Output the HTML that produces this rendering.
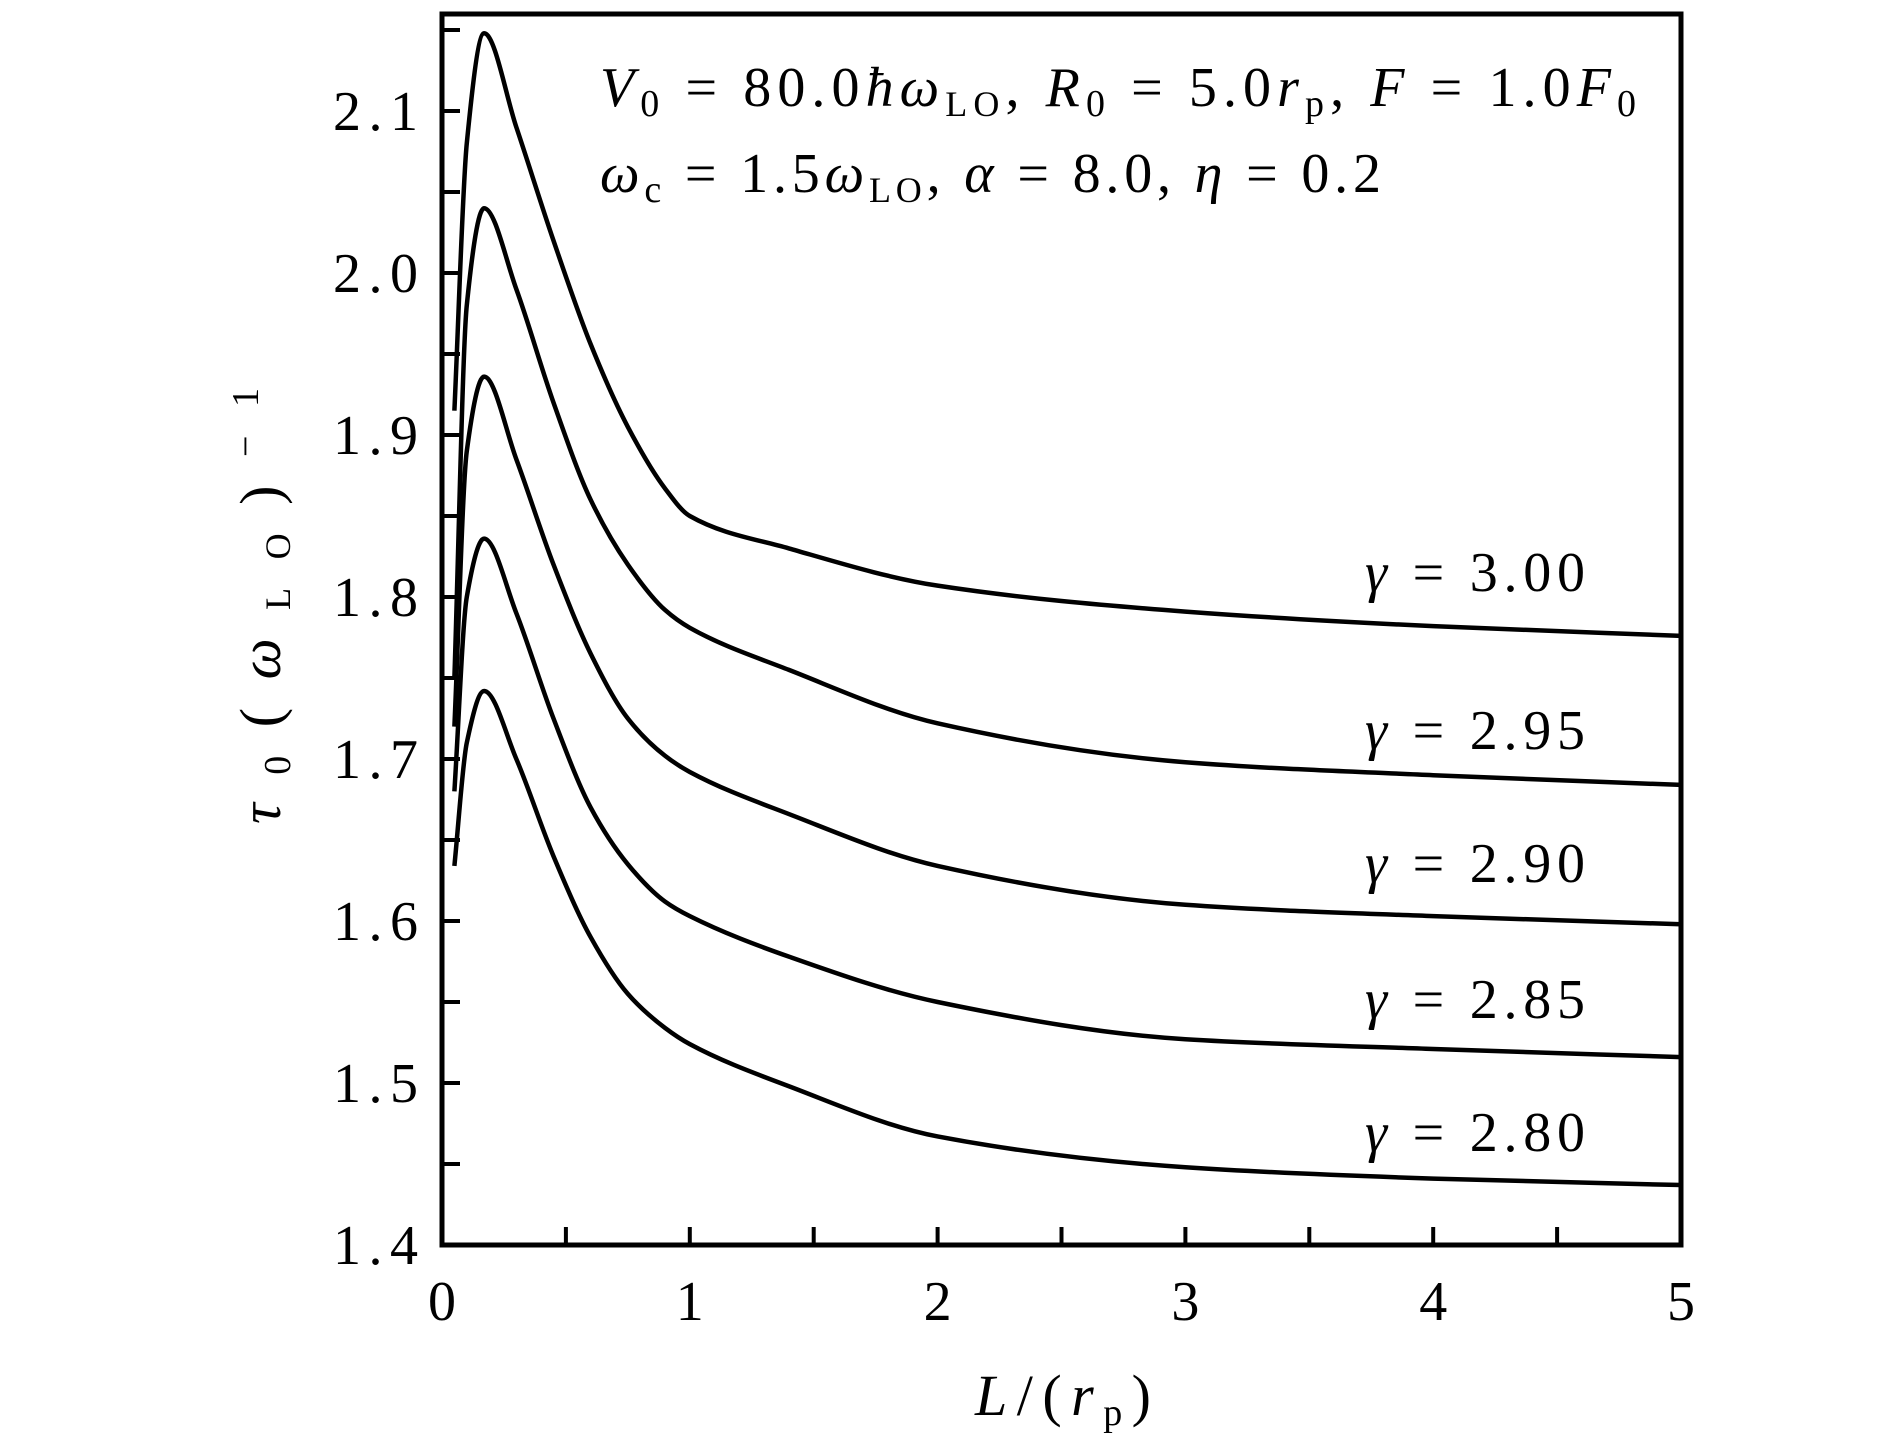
<!DOCTYPE html>
<html><head><meta charset="utf-8"><style>
body{margin:0;background:#fff}
svg{display:block}
text{font-family:"Liberation Serif",serif;fill:#000}
</style></head><body>
<svg id="chart" width="1890" height="1441" viewBox="0 0 1890 1441" xmlns="http://www.w3.org/2000/svg">
<g id="curves"></g>
<g id="axes"></g>
<text x="600" y="106" font-size="56" font-style="italic" textLength="1036" lengthAdjust="spacing">V<tspan font-style="normal" font-size="38" dy="10">0</tspan><tspan font-style="normal" dy="-10"> = 80.0</tspan>ħω<tspan font-style="normal" font-size="36" dy="10">LO</tspan><tspan font-style="normal" dy="-10">, </tspan>R<tspan font-style="normal" font-size="38" dy="10">0</tspan><tspan font-style="normal" dy="-10"> = 5.0</tspan>r<tspan font-style="normal" font-size="38" dy="10">p</tspan><tspan font-style="normal" dy="-10">, </tspan>F<tspan font-style="normal"> = 1.0</tspan>F<tspan font-style="normal" font-size="38" dy="10">0</tspan></text>
<text x="600" y="192" font-size="56" font-style="italic" textLength="781" lengthAdjust="spacing">ω<tspan font-style="normal" font-size="38" dy="10">c</tspan><tspan font-style="normal" dy="-10"> = 1.5</tspan>ω<tspan font-style="normal" font-size="36" dy="10">LO</tspan><tspan font-style="normal" dy="-10">, </tspan>α<tspan font-style="normal"> = 8.0, </tspan>η<tspan font-style="normal"> = 0.2</tspan></text>
<text x="975" y="1415" font-size="58" font-style="italic" textLength="176" lengthAdjust="spacing">L<tspan font-style="normal">/(</tspan>r<tspan font-style="normal" font-size="38" dy="10">p</tspan><tspan font-style="normal" dy="-10">)</tspan></text>
<text transform="translate(280,824) rotate(-90)" font-size="58" font-style="italic" textLength="436" lengthAdjust="spacing">τ<tspan font-style="normal" font-size="38" dy="10">0</tspan><tspan font-style="normal" dy="-10">(</tspan>ω<tspan font-style="normal" font-size="36" dy="10">LO</tspan><tspan font-style="normal" dy="-10">)</tspan><tspan font-style="normal" font-size="38" dy="-22">−1</tspan></text>
</svg>
<script>
const L = [0.05,0.1,0.17,0.3,0.45,0.6,0.75,0.9,1.0,1.4,2,3,4,5];
const g300 = [1.915,2.08,2.148,2.09,2.02,1.956,1.905,1.867,1.850,1.830,1.807,1.791,1.782,1.776];
const g295 = [1.75,1.98,2.04,1.99,1.92,1.86,1.82,1.792,1.781,1.755,1.722,1.698,1.690,1.684];
const g290 = [1.72,1.89,1.936,1.885,1.82,1.765,1.725,1.702,1.692,1.666,1.634,1.610,1.603,1.598];
const g285 = [1.68,1.80,1.836,1.79,1.725,1.67,1.635,1.612,1.603,1.578,1.55,1.527,1.521,1.516];
const g280 = [1.634,1.71,1.742,1.70,1.64,1.59,1.555,1.534,1.524,1.498,1.467,1.448,1.441,1.437];
const seriesNames = ["γ = 3.00","γ = 2.95","γ = 2.90","γ = 2.85","γ = 2.80"];
const xTicks = [0,1,2,3,4,5];
const yTicks = [1.4,1.5,1.6,1.7,1.8,1.9,2.0,2.1];
const labelY = [591,749,882,1018,1151];

const NS="http://www.w3.org/2000/svg";
const X0=442,X1=1681,Y0=1245,Y1=14;
const xs=v=>X0+(v-0)/(5-0)*(X1-X0);
const ys=v=>Y0-(v-1.4)*1620;
function mk(tag,attrs,parent){const e=document.createElementNS(NS,tag);for(const k in attrs)e.setAttribute(k,attrs[k]);parent.appendChild(e);return e;}
function monoPath(p){
  const n=p.length,dx=[],m=[],t=[];
  for(let i=0;i<n-1;i++){dx[i]=p[i+1][0]-p[i][0];m[i]=(p[i+1][1]-p[i][1])/dx[i];}
  t[0]=m[0];t[n-1]=m[n-2];
  for(let i=1;i<n-1;i++){
    if(m[i-1]*m[i]<=0)t[i]=0;
    else{const w1=2*dx[i]+dx[i-1],w2=dx[i]+2*dx[i-1];t[i]=(w1+w2)/(w1/m[i-1]+w2/m[i]);}
  }
  let d="M"+p[0][0]+","+p[0][1];
  for(let i=0;i<n-1;i++){
    const h=dx[i]/3;
    d+=" C"+(p[i][0]+h)+","+(p[i][1]+t[i]*h)+" "+(p[i+1][0]-h)+","+(p[i+1][1]-t[i+1]*h)+" "+p[i+1][0]+","+p[i+1][1];
  }
  return d;
}
const curves=document.getElementById('curves'),axes=document.getElementById('axes');
const all=[g300,g295,g290,g285,g280];
all.forEach((s,si)=>{
  const p=L.map((l,i)=>[xs(l),ys(s[i])]);
  const path=mk('path',{d:monoPath(p),fill:'none',stroke:'#000','stroke-width':4.5,'stroke-linejoin':'round'},curves);
  
  
  const t=mk('text',{x:1365,y:labelY[si],'font-size':56,textLength:220,lengthAdjust:'spacing'},curves);
  
  
  t.innerHTML='<tspan font-style="italic">γ</tspan> = '+seriesNames[si].split('= ')[1];
});
const frame=mk('rect',{x:X0,y:Y1,width:X1-X0,height:Y0-Y1,fill:'none',stroke:'#000','stroke-width':5},axes);


for(let v=0;v<=5.001;v+=0.5){
  const tk=mk('line',{x1:xs(v),x2:xs(v),y1:Y0,y2:Y0-18,stroke:'#000','stroke-width':4},axes);
  
  
}
for(let v=1.4;v<=2.151;v+=0.05){
  const tk=mk('line',{x1:X0,x2:X0+18,y1:ys(v),y2:ys(v),stroke:'#000','stroke-width':4},axes);
  
  
}
xTicks.forEach(v=>{
  const t=mk('text',{x:xs(v),y:1320,'font-size':56,'text-anchor':'middle'},axes);
  
  
  t.textContent=v;
});
yTicks.forEach(v=>{
  const t=mk('text',{x:333,y:ys(v)+19,'font-size':56,textLength:85,lengthAdjust:'spacing'},axes);
  
  
  t.textContent=v.toFixed(1);
});
</script>
</body></html>
